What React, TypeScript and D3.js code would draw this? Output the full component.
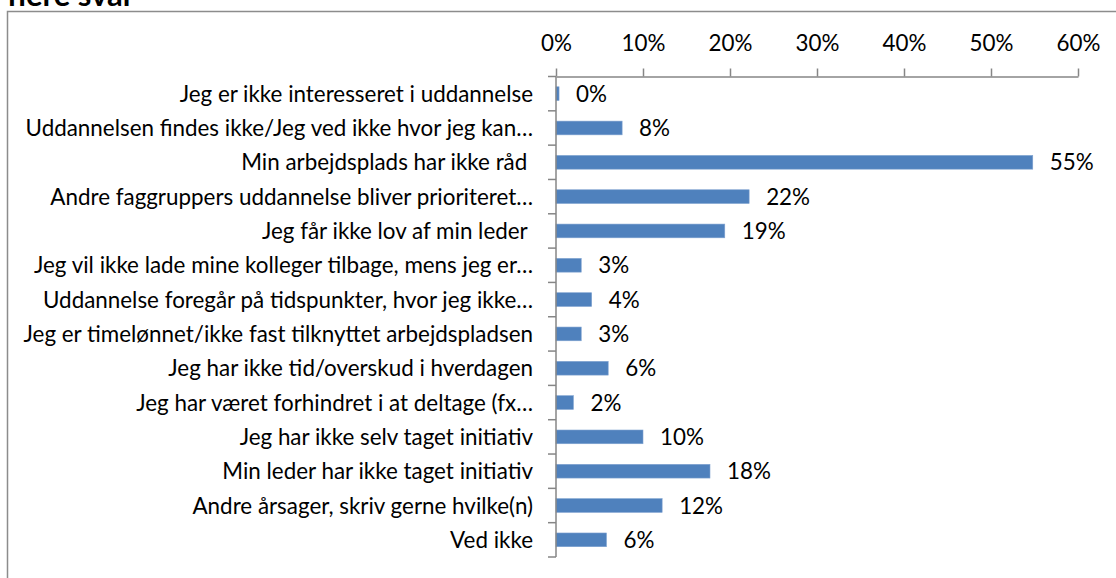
import { useEffect, useRef } from "react";
import * as d3 from "d3";

const categories = [
  "Jeg er ikke interesseret i uddannelse",
  "Uddannelsen findes ikke/Jeg ved ikke hvor jeg kan…",
  "Min arbejdsplads har ikke råd ",
  "Andre faggruppers uddannelse bliver prioriteret…",
  "Jeg får ikke lov af min leder ",
  "Jeg vil ikke lade mine kolleger tilbage, mens jeg er…",
  "Uddannelse foregår på tidspunkter, hvor jeg ikke…",
  "Jeg er timelønnet/ikke fast tilknyttet arbejdspladsen",
  "Jeg har ikke tid/overskud i hverdagen",
  "Jeg har været forhindret i at deltage (fx…",
  "Jeg har ikke selv taget initiativ",
  "Min leder har ikke taget initiativ",
  "Andre årsager, skriv gerne hvilke(n)",
  "Ved ikke",
];
// percent
const values = [0.35, 7.6, 54.8, 22.2, 19.4, 2.9, 4.1, 2.9, 6.0, 2.0, 10.0, 17.7, 12.2, 5.8];
const ticks = [0, 10, 20, 30, 40, 50, 60];

const FONT = "Lato, 'Open Sans', sans-serif";
const FS = 22.4;

const App = () => {
  const ref = useRef(null);
  const width = 1116;
  const height = 578;
  const margin = { top: 76.5, left: 556, right: 38, bottom: 21 };

  useEffect(() => {
    const svg = d3.select(ref.current);
    svg.selectAll("*").remove();

    const x = d3
      .scaleLinear()
      .domain([0, 60])
      .range([margin.left, width - margin.right]);
    const y = d3
      .scaleBand()
      .domain(categories)
      .range([margin.top, height - margin.bottom])
      .paddingInner(0.6)
      .paddingOuter(0.3);
    const yBand = d3
      .scaleBand()
      .domain(categories)
      .range([margin.top, height - margin.bottom]);

    // chart frame
    svg
      .append("rect")
      .attr("x", 7.5)
      .attr("y", 11.5)
      .attr("width", width)
      .attr("height", height)
      .attr("fill", "none")
      .attr("stroke", "#8c8c8c")
      .attr("stroke-width", 1.5);

    // title (cut off at top, as in the source)
    svg
      .append("text")
      .attr("x", 7)
      .attr("y", 6)
      .attr("font-family", FONT)
      .attr("font-weight", "bold")
      .attr("font-size", 31)
      .attr("fill", "#000")
      .text("flere svar");

    // bars
    svg
      .append("g")
      .selectAll("rect")
      .data(values)
      .join("rect")
      .attr("x", x(0))
      .attr("y", (d, i) => y(categories[i]))
      .attr("width", (d) => x(d) - x(0))
      .attr("height", y.bandwidth())
      .attr("fill", "#4f81bd")
      .attr("stroke", "#7fa2d0")
      .attr("stroke-width", 0.6);

    // value labels
    svg
      .append("g")
      .selectAll("text")
      .data(values)
      .join("text")
      .attr("x", (d) => x(d) + 17)
      .attr("y", (d, i) => yBand(categories[i]) + yBand.bandwidth() / 2)
      .attr("dy", "0.36em")
      .attr("font-family", FONT)
      .attr("font-size", FS)
      .attr("fill", "#000")
      .text((d) => d3.format(".0f")(d) + "%");

    // top axis
    const xAxis = svg
      .append("g")
      .attr("transform", `translate(0,${margin.top})`)
      .call(
        d3
          .axisTop(x)
          .tickValues(ticks)
          .tickSize(8)
          .tickSizeOuter(0)
          .tickPadding(18)
          .tickFormat((d) => d + "%")
      );
    xAxis.select(".domain").attr("stroke", "#868686").attr("stroke-width", 1.5);
    xAxis.selectAll("line").attr("stroke", "#868686").attr("stroke-width", 1.5);
    xAxis
      .selectAll("text")
      .attr("font-family", FONT)
      .attr("font-size", FS)
      .attr("fill", "#000");

    // category axis
    const yAxis = svg.append("g").attr("transform", `translate(${margin.left},0)`);
    yAxis
      .append("line")
      .attr("x1", 0)
      .attr("x2", 0)
      .attr("y1", margin.top)
      .attr("y2", height - margin.bottom)
      .attr("stroke", "#868686")
      .attr("stroke-width", 1.5);
    const bounds = categories.map((c) => yBand(c)).concat([height - margin.bottom]);
    yAxis
      .selectAll("line.tick")
      .data(bounds)
      .join("line")
      .attr("class", "tick")
      .attr("x1", -8)
      .attr("x2", 0)
      .attr("y1", (d) => d)
      .attr("y2", (d) => d)
      .attr("stroke", "#868686")
      .attr("stroke-width", 1.5);
    yAxis
      .selectAll("text")
      .data(categories)
      .join("text")
      .attr("x", -23)
      .attr("y", (d) => yBand(d) + yBand.bandwidth() / 2)
      .attr("dy", "0.36em")
      .attr("text-anchor", "end")
      .attr("font-family", FONT)
      .attr("font-size", FS)
      .attr("fill", "#000")
      .style("white-space", "pre")
      .text((d) => d);
  }, []);

  return (
    <svg
      ref={ref}
      width={width}
      height={height}
      style={{ position: "absolute", left: 0, top: 0, background: "#fff" }}
    ></svg>
  );
};

export default App;
